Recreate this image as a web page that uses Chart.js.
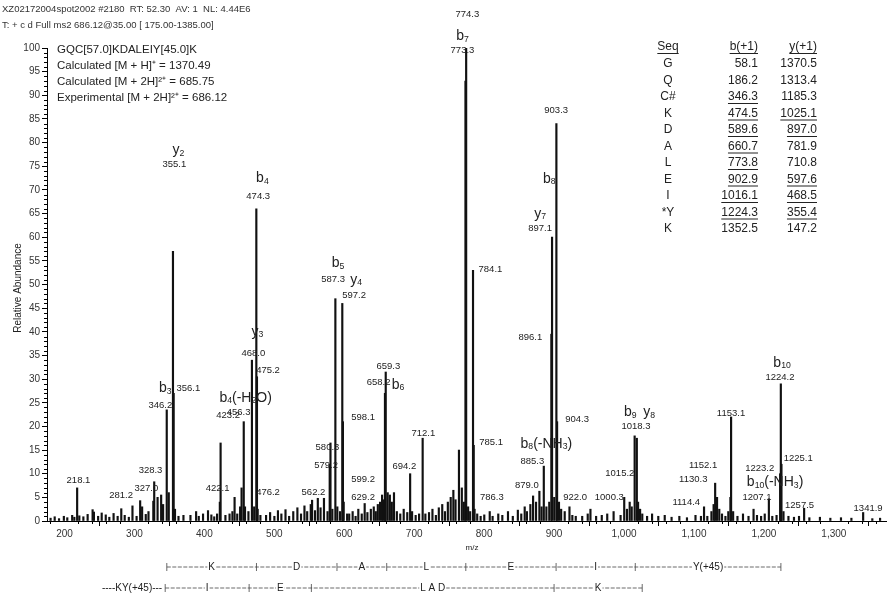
<!DOCTYPE html>
<html>
<head>
<meta charset="utf-8">
<script src="https://cdn.jsdelivr.net/npm/chart.js@4.4.1/dist/chart.umd.min.js"></script>
<style>
  html, body { margin: 0; padding: 0; background: #fff; }
  #wrap { position: relative; width: 887px; height: 599px; }
</style>
</head>
<body>
<div id="wrap"><canvas id="c" width="887" height="599"></canvas></div>
<script>
const FONT = '"Liberation Sans", Arial, sans-serif';

// spectrum peaks: m/z and relative abundance (%)
const peakMz = [
  180.1, 186.0, 192.2, 199.1, 204.0, 211.0, 214.1, 218.1, 221.2, 227.0,
  233.1, 240.2, 242.1, 248.1, 253.2, 259.0, 264.1, 270.2, 276.0, 281.2,
  286.1, 292.0, 297.2, 303.1, 308.2, 311.0, 316.2, 320.1, 327.0, 328.3,
  333.1, 338.2, 341.0, 346.2, 349.1, 355.1, 356.1, 358.0, 363.0,
  370.1, 380.1, 388.2, 392.0, 398.1, 405.2, 410.0, 414.1, 418.2, 422.1,
  423.2, 430.1, 436.0, 440.1, 443.2, 447.0, 451.1, 453.2, 456.3, 458.1,
  463.0, 468.0, 471.2, 474.3, 475.2, 476.2, 480.1,
  488.2, 494.0, 500.1, 505.2, 510.1, 516.0, 521.2, 527.1, 533.0, 538.2,
  543.1, 547.0, 552.1, 554.0, 558.2, 562.2, 566.1, 571.0, 576.1, 579.2,
  580.3, 583.0, 587.3, 590.1, 594.0, 597.2, 598.1, 599.2, 604.1,
  607.1, 612.0, 616.2, 620.1, 625.0, 629.2, 633.1, 638.0, 642.2, 645.1,
  648.0, 651.2, 654.1, 656.0, 658.2, 659.3, 662.1, 665.2, 668.0, 671.1,
  675.2, 680.1, 685.0, 690.1, 694.2, 697.0, 702.1, 707.0, 712.1, 716.0,
  721.2, 726.1, 731.0, 735.2, 740.1, 744.0, 748.1, 752.2, 756.0, 759.1,
  764.0, 768.1, 771.0, 773.3, 774.3, 777.1, 780.0, 784.1, 785.1, 786.3,
  790.1, 795.0, 800.2, 808.0, 812.1, 820.2, 826.0, 834.1, 841.0, 848.2,
  853.1, 858.0, 861.2, 866.1, 870.0, 874.2, 879.0, 882.1, 885.3, 889.0,
  893.1, 896.1, 897.1, 900.2, 903.3, 904.3, 907.0, 910.1, 915.2, 922.0,
  926.1, 931.0, 940.2, 948.1, 952.0, 960.1, 968.2, 976.0, 985.1, 995.1,
  1000.3, 1004.2, 1008.1, 1011.0, 1015.2, 1018.3, 1020.1, 1023.0, 1026.1, 1033.0,
  1040.1, 1049.0, 1058.2, 1068.0, 1079.1, 1090.0, 1102.2, 1110.0, 1114.4, 1119.1,
  1125.0, 1128.1, 1130.3, 1133.0, 1136.2, 1140.1, 1145.0, 1149.1, 1152.1, 1153.1,
  1156.0, 1162.2, 1170.1, 1178.0, 1185.2, 1190.1, 1196.0, 1201.2, 1207.1, 1212.0,
  1218.1, 1223.2, 1224.2, 1225.1, 1228.0, 1235.1, 1243.0, 1250.2, 1257.5, 1265.0,
  1280.1, 1295.0, 1310.2, 1325.1, 1341.9, 1355.0, 1366.1
];
const peakInt = [
  0.6, 0.9, 0.5, 1.0, 0.7, 1.2, 0.8, 7.0, 1.1, 0.9,
  1.4, 2.4, 1.9, 1.0, 1.7, 1.3, 0.8, 1.6, 1.0, 2.6,
  1.2, 0.8, 3.2, 1.0, 4.3, 3.0, 1.4, 2.0, 4.2, 8.3,
  5.0, 5.5, 3.5, 23.5, 6.0, 57, 27, 2.5, 1.0,
  1.2, 1.2, 2.0, 1.0, 1.5, 2.2, 1.3, 0.9, 1.5, 4.0,
  16.5, 1.2, 1.5, 2.0, 5.0, 1.5, 3.0, 7.0, 21, 3.0,
  2.0, 34, 3.0, 66, 30.5, 2.5, 1.2,
  1.2, 1.8, 1.0, 2.2, 1.5, 2.4, 1.0, 2.0, 2.8, 1.5,
  3.2, 2.0, 3.5, 4.4, 2.2, 4.8, 2.8, 4.8, 2.0, 12,
  16.5, 2.5, 47, 3.0, 2.0, 46, 21, 4.0, 1.5,
  1.5, 2.0, 1.0, 2.5, 1.5, 3.7, 1.8, 2.5, 3.0, 2.0,
  3.5, 4.0, 5.5, 4.5, 27, 31.5, 6.0, 5.5, 4.0, 6.0,
  2.0, 1.5, 2.5, 1.8, 10, 2.0, 1.2, 1.5, 17.5, 1.5,
  1.8, 2.5, 1.2, 2.8, 3.5, 2.0, 4.0, 5.0, 6.5, 4.5,
  15, 7.0, 4.0, 93, 100, 3.0, 2.0, 53, 16, 2.5,
  1.5, 1.0, 1.3, 2.0, 1.0, 1.5, 1.2, 2.0, 1.0, 2.3,
  1.5, 3.0, 2.0, 3.5, 5.3, 4.0, 6.3, 3.0, 11.6, 3.0,
  4.0, 39.5, 60, 5.0, 84, 21, 4.0, 2.5, 2.0, 3.0,
  1.2, 1.0, 1.0, 1.5, 2.5, 1.0, 1.2, 1.5, 2.0, 1.2,
  5.0, 2.5, 4.0, 3.0, 18, 17.5, 4.0, 2.5, 1.5, 1.0,
  1.5, 1.0, 1.2, 0.8, 1.0, 0.7, 1.2, 1.0, 3.0, 1.0,
  2.0, 3.5, 8.0, 5.0, 2.5, 1.5, 1.0, 2.0, 5.0, 22,
  2.0, 1.0, 1.5, 1.0, 2.5, 1.2, 1.0, 1.5, 4.7, 1.0,
  1.2, 10, 29, 12, 2.0, 1.0, 0.8, 1.0, 2.7, 0.7,
  0.8, 0.6, 0.7, 0.6, 1.8, 0.5, 0.6
];

// x-axis tick values
const xTicks = [200, 300, 400, 500, 600, 700, 800, 900, 1000, 1100, 1200, 1300];

// peak annotations: text, m/z, abundance level
const annText = [
  '218.1', '281.2', '327.0', '328.3', '346.2', '356.1', '355.1', '474.3', '468.0', '475.2',
  '456.3', '423.2', '422.1', '476.2', '562.2', '579.2', '580.3', '587.3', '597.2', '598.1',
  '599.2', '629.2', '659.3', '658.2', '694.2', '712.1', '774.3', '773.3', '784.1', '785.1',
  '786.3', '903.3', '897.1', '896.1', '904.3', '885.3', '879.0', '922.0', '1000.3', '1015.2',
  '1018.3', '1114.4', '1130.3', '1152.1', '1153.1', '1207.1', '1223.2', '1225.1', '1224.2', '1257.5',
  '1341.9'
];
const annMz = [
  220, 281, 317, 323, 337, 377, 357, 477, 470, 491,
  449, 434, 419, 491, 556, 574, 576, 584, 614, 627,
  627, 627, 663, 649, 686, 713, 776, 769, 809, 810,
  811, 903, 880, 866, 933, 869, 861, 930, 979, 994,
  1017, 1089, 1099, 1113, 1153, 1190, 1194, 1249, 1223, 1251,
  1349
];
const annLevel = [
  8.6, 5.4, 7.0, 10.6, 24.5, 28.1, 75.3, 68.7, 35.5, 31.9,
  23.0, 22.4, 7.0, 6.1, 6.1, 11.8, 15.6, 51.0, 47.6, 22.0,
  8.7, 5.1, 32.6, 29.4, 11.6, 18.6, 107.2, 99.6, 53.3, 16.7,
  4.9, 86.9, 61.9, 38.9, 21.4, 12.7, 7.6, 5.1, 4.9, 10.1,
  19.9, 4.0, 8.7, 11.8, 22.8, 4.9, 11.2, 13.3, 30.4, 3.4,
  2.7
];

// fragment ion names (underscore = subscript)
const ionText = ['b_3', 'y_2', 'b_4', 'y_3', 'b_4(-H_2O)', 'b_5', 'y_4', 'b_6', 'b_7', 'b_8',
                 'y_7', 'b_8(-NH_3)', 'b_9', 'y_8', 'b_10', 'b_10(-NH_3)'];
const ionMz = [344, 363, 483, 476, 459, 591, 617, 677, 769, 893,
               880, 889, 1009, 1036, 1226, 1216];
const ionLevel = [28.1, 78.4, 72.5, 40.0, 26.0, 54.5, 51.0, 28.8, 102.5, 72.3,
                  64.9, 16.3, 23.0, 23.0, 33.4, 8.2];

// sequence table
const seq = ['G', 'Q', 'C#', 'K', 'D', 'A', 'L', 'E', 'I', '*Y', 'K'];
const bIons = ['58.1', '186.2', '346.3', '474.5', '589.6', '660.7', '773.8', '902.9', '1016.1', '1224.3', '1352.5'];
const yIons = ['1370.5', '1313.4', '1185.3', '1025.1', '897.0', '781.9', '710.8', '597.6', '468.5', '355.4', '147.2'];
const bSeen = [0, 0, 1, 1, 1, 1, 1, 1, 1, 1, 0];
const ySeen = [0, 0, 0, 1, 1, 0, 0, 1, 1, 1, 0];

// ladders under the axis (bar positions in m/z, as drawn)
const bLadderMz = [346.3, 474.5, 589.6, 660.7, 773.8, 902.9, 1016.1, 1224.3];
const bLadderRes = ['K', 'D', 'A', 'L', 'E', 'I', 'Y(+45)'];
const yLadderMz = [344, 464, 553, 900, 1026];
const yLadderRes = ['I', 'E', 'L A D', 'K'];

function drawIon(ctx, txt, x, y, size) {
  const parts = [];
  let i = 0;
  while (i < txt.length) {
    if (txt[i] === '_') {
      let j = i + 1;
      while (j < txt.length && /\d/.test(txt[j])) j++;
      parts.push({ t: txt.slice(i + 1, j), sub: true });
      i = j;
    } else {
      let j = i;
      while (j < txt.length && txt[j] !== '_') j++;
      parts.push({ t: txt.slice(i, j), sub: false });
      i = j;
    }
  }
  let w = 0;
  parts.forEach(p => {
    ctx.font = (p.sub ? size * 0.62 : size) + 'px ' + FONT;
    p.w = ctx.measureText(p.t).width;
    w += p.w;
  });
  let cx = x - w / 2;
  ctx.textAlign = 'left';
  parts.forEach(p => {
    ctx.font = (p.sub ? size * 0.62 : size) + 'px ' + FONT;
    ctx.fillText(p.t, cx, p.sub ? y + size * 0.22 : y);
    cx += p.w;
  });
}

function textAt(ctx, t, x, y, size, align) {
  ctx.font = size + 'px ' + FONT;
  ctx.textAlign = align || 'left';
  ctx.fillText(t, x, y);
}

const overlay = {
  id: 'overlay',
  afterDraw(chart) {
    const ctx = chart.ctx;
    const xs = chart.scales.x, ys = chart.scales.y;
    const area = chart.chartArea;
    ctx.save();
    ctx.fillStyle = '#222';
    ctx.textBaseline = 'middle';

    // minor ticks
    ctx.strokeStyle = '#000';
    ctx.lineWidth = 1;
    ctx.beginPath();
    for (let v = 1; v < 100; v++) {
      if (v % 5 === 0) continue;
      const py = Math.round(ys.getPixelForValue(v)) + 0.5;
      ctx.moveTo(area.left - 3, py);
      ctx.lineTo(area.left, py);
    }
    for (let v = 180; v < 1376; v += 20) {
      if (v % 100 === 0) continue;
      const px = Math.round(xs.getPixelForValue(v)) + 0.5;
      ctx.moveTo(px, area.bottom);
      ctx.lineTo(px, area.bottom + 3);
    }
    ctx.stroke();

    // header
    ctx.fillStyle = '#333';
    textAt(ctx, 'XZ02172004spot2002 #2180  RT: 52.30  AV: 1  NL: 4.44E6', 2, 9, 9.5);
    textAt(ctx, 'T: + c d Full ms2 686.12@35.00 [ 175.00-1385.00]', 2, 25, 9.5);

    // peptide info
    ctx.fillStyle = '#222';
    textAt(ctx, 'GQC[57.0]KDALEIY[45.0]K', 57, 50, 11.5);
    textAt(ctx, 'Calculated [M + H]\u207A = 1370.49', 57, 66, 11.5);
    textAt(ctx, 'Calculated [M + 2H]\u00B2\u207A = 685.75', 57, 82, 11.5);
    textAt(ctx, 'Experimental [M + 2H]\u00B2\u207A = 686.12', 57, 98, 11.5);

    // sequence table
    const rowY = r => 64 + r * 16.5;
    const underline = (x0, x1, y) => {
      ctx.beginPath();
      ctx.moveTo(x0, y + 6.5);
      ctx.lineTo(x1, y + 6.5);
      ctx.lineWidth = 1;
      ctx.strokeStyle = '#222';
      ctx.stroke();
    };
    ctx.font = '12px ' + FONT;
    textAt(ctx, 'Seq', 668, 47, 12, 'center');
    underline(668 - ctx.measureText('Seq').width / 2, 668 + ctx.measureText('Seq').width / 2, 47);
    textAt(ctx, 'b(+1)', 758, 47, 12, 'right');
    underline(758 - ctx.measureText('b(+1)').width, 758, 47);
    textAt(ctx, 'y(+1)', 817, 47, 12, 'right');
    underline(817 - ctx.measureText('y(+1)').width, 817, 47);
    seq.forEach((s, r) => {
      const y = rowY(r);
      textAt(ctx, s, 668, y, 12, 'center');
      textAt(ctx, bIons[r], 758, y, 12, 'right');
      if (bSeen[r]) underline(758 - ctx.measureText(bIons[r]).width, 758, y);
      textAt(ctx, yIons[r], 817, y, 12, 'right');
      if (ySeen[r]) underline(817 - ctx.measureText(yIons[r]).width, 817, y);
    });

    // axis titles
    textAt(ctx, 'm/z', 472, 548, 8, 'center');
    ctx.save();
    ctx.translate(18, 288);
    ctx.rotate(-Math.PI / 2);
    textAt(ctx, 'Relative Abundance', 0, 0, 10, 'center');
    ctx.restore();

    // peak numbers
    ctx.fillStyle = '#222';
    annText.forEach((t, i) => {
      textAt(ctx, t, xs.getPixelForValue(annMz[i]), ys.getPixelForValue(annLevel[i]), 9.5, 'center');
    });
    // ion names
    ionText.forEach((t, i) => {
      drawIon(ctx, t, xs.getPixelForValue(ionMz[i]), ys.getPixelForValue(ionLevel[i]), 14);
    });

    // ladders
    const ladder = (mzs, res, y, lead) => {
      const px = mzs.map(m => xs.getPixelForValue(m));
      ctx.strokeStyle = '#444';
      ctx.lineWidth = 0.8;
      ctx.setLineDash([4, 1.5]);
      ctx.beginPath();
      ctx.moveTo(px[0], y);
      ctx.lineTo(px[px.length - 1], y);
      ctx.stroke();
      ctx.setLineDash([]);
      ctx.beginPath();
      px.forEach(x => { ctx.moveTo(x, y - 4); ctx.lineTo(x, y + 4); });
      ctx.stroke();
      ctx.font = '10px ' + FONT;
      res.forEach((r, i) => {
        const cx = (px[i] + px[i + 1]) / 2;
        const w = ctx.measureText(r).width;
        ctx.fillStyle = '#fff';
        ctx.fillRect(cx - w / 2 - 1, y - 5, w + 2, 10);
        ctx.fillStyle = '#222';
        textAt(ctx, r, cx, y, 10, 'center');
      });
      if (lead) {
        ctx.fillStyle = '#222';
        textAt(ctx, lead, px[0] - 3, y, 10, 'right');
      }
    };
    ladder(bLadderMz, bLadderRes, 567, null);
    ladder(yLadderMz, yLadderRes, 588, '----KY(+45)---');

    ctx.restore();
  }
};

new Chart(document.getElementById('c'), {
  type: 'bar',
  data: {
    datasets: [{
      data: peakMz.map((m, i) => ({ x: m, y: peakInt[i] })),
      backgroundColor: '#111',
      borderWidth: 0,
      barThickness: 1.5
    }]
  },
  options: {
    responsive: false,
    animation: false,
    layout: { padding: { top: 48, left: 0, right: 0, bottom: 0 } },
    plugins: { legend: { display: false }, tooltip: { enabled: false } },
    scales: {
      x: {
        type: 'linear', min: 175, max: 1376, offset: false,
        grid: { drawOnChartArea: false, tickLength: 5, color: '#000' },
        border: { color: '#000' },
        ticks: {
          autoSkip: false, maxRotation: 0,
          font: { size: 10, family: FONT }, color: '#333', padding: 2,
          callback: v => v.toLocaleString('en-US')
        },
        afterBuildTicks: s => { s.ticks = xTicks.map(v => ({ value: v })); },
        afterFit: s => { s.height = 78; }
      },
      y: {
        min: 0, max: 100,
        grid: { drawOnChartArea: false, tickLength: 5, color: '#000' },
        border: { color: '#000' },
        ticks: { stepSize: 5, font: { size: 10, family: FONT }, color: '#333', padding: 2 },
        afterFit: s => { s.width = 47; }
      }
    }
  },
  plugins: [overlay]
});
</script>
</body>
</html>
